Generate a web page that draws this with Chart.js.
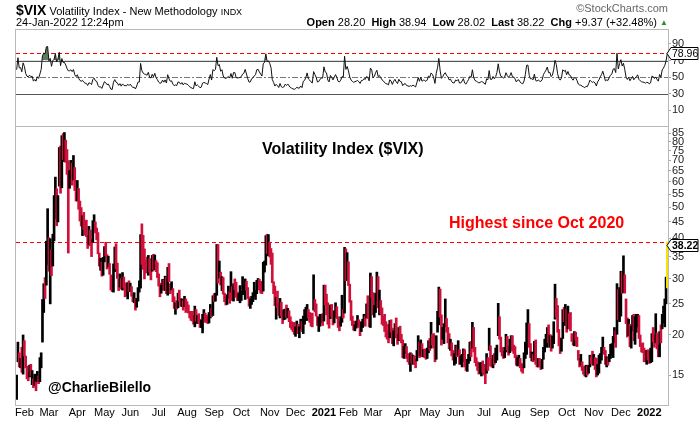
<!DOCTYPE html>
<html>
<head>
<meta charset="utf-8">
<script src="https://cdn.jsdelivr.net/npm/chart.js@4.4.1/dist/chart.umd.min.js"></script>
<style>
body { margin: 0; background: #fff; font-family: "Liberation Sans", Arial, sans-serif; }
#wrap { position: relative; width: 700px; height: 421px; overflow: hidden; }
canvas { position: absolute; left: 0; top: 0; }
.t { position: absolute; white-space: nowrap; color: #000; line-height: 1; }
</style>
</head>
<body>
<div id="wrap">
<canvas id="rsiChart" width="700" height="421"></canvas>
<canvas id="mainChart" width="700" height="421"></canvas>
<div class="t" style="left:16px;top:3px;font-size:11px"><b style="font-size:14px">$VIX</b> Volatility Index - New Methodology <span style="font-size:9px">INDX</span></div>
<div class="t" style="left:16px;top:17px;font-size:11px">24-Jan-2022 12:24pm</div>
<div class="t" style="right:32px;top:3px;font-size:11px;color:#666">&copy;StockCharts.com</div>
<div class="t" style="right:43px;top:17px;font-size:11px"><b>Open</b> 28.20&nbsp; <b>High</b> 38.94&nbsp; <b>Low</b> 28.02&nbsp; <b>Last</b> 38.22&nbsp; <b>Chg</b> +9.37 (+32.48%)</div>
<div class="t" style="left:660px;top:19px;font-size:8px;color:#2e8b2e">&#9650;</div>
<div class="t" id="warn" style="left:300px;top:380px;font-size:11px;color:#f0f"></div>
</div>
<script>
// VIX daily bars, 24-Jan-2020 .. 24-Jan-2022

// closes before the first bar, only used to seed the RSI
const warmupCloses = [14.91,15.96,14.80,14.52,13.62,15.86,15.68,14.99,13.94,12.63,12.14,12.29,12.58,12.50,12.51,12.61,12.67,12.65,13.43,14.82,13.78,
  12.47,14.02,13.85,13.79,13.45,12.54,12.56,12.32,12.39,12.42,12.32,12.10,12.85,12.91,12.98];

const close2020 = [
  14.56,18.23,16.28,16.39,15.49,18.84,
  17.97,16.05,15.15,14.96,15.47,15.04,15.18,13.74,14.15,13.68,14.83,14.38,15.56,17.08,25.03,27.85,27.56,39.16,40.11,
  33.42,36.82,31.99,39.62,41.94,54.46,47.30,53.90,75.47,57.83,82.69,75.91,76.45,72.00,66.04,61.59,61.67,63.95,61.00,65.54,57.08,53.54,
  57.06,50.91,46.80,45.24,46.70,43.35,41.67,41.17,37.76,40.84,40.11,38.15,43.83,45.41,41.98,41.38,35.93,33.29,33.57,31.23,34.15,
  37.19,35.97,33.61,34.12,31.44,27.98,27.57,33.04,35.28,32.61,31.89,29.30,30.53,27.99,29.53,28.16,27.91,27.62,28.59,27.51,
  28.23,26.84,25.66,25.81,24.52,25.81,27.57,27.57,40.79,36.09,34.40,33.67,33.47,32.94,35.12,31.77,31.37,33.84,32.22,34.73,31.78,30.43,
  28.62,27.68,27.94,29.43,28.08,29.26,27.29,32.19,29.52,27.76,28.00,25.68,24.46,24.84,24.32,26.08,25.84,24.74,25.44,24.10,24.76,24.46,
  24.28,23.76,22.99,22.65,22.21,22.13,24.03,22.28,22.59,22.05,21.35,21.51,22.54,22.72,22.54,22.37,22.03,23.27,24.47,22.96,26.41,
  26.12,26.57,33.60,30.75,31.46,28.81,29.71,26.87,25.85,25.59,26.04,26.46,25.83,27.78,25.79,28.58,28.51,26.38,26.19,26.27,26.37,
  26.70,27.63,27.96,29.48,28.06,26.36,25.00,25.07,26.07,26.40,26.97,27.41,29.18,29.35,28.65,28.11,27.55,32.46,33.35,40.28,37.59,38.02,
  37.13,35.55,29.57,27.58,24.86,25.75,24.80,23.45,25.35,23.10,22.45,22.71,23.84,23.11,23.70,22.66,21.64,21.25,20.84,20.57,
  20.77,21.17,20.79,20.79,21.30,20.68,22.27,22.52,23.31,24.72,22.89,22.50,21.93,21.57,25.16,24.23,23.31,21.53,21.70,22.42,22.77,22.75
];
const high2020 = [
  15.0,19.0,17.6,16.9,18.3,20.0,
  19.2,17.2,16.0,15.3,16.1,16.2,15.5,14.6,15.1,14.3,15.4,14.9,17.0,17.6,25.8,28.9,30.2,39.2,49.5,
  40.2,39.9,36.9,41.2,54.4,62.1,57.1,54.4,76.8,77.6,83.6,84.8,85.5,81.0,75.7,69.9,65.1,70.0,68.7,72.5,66.5,59.8,
  60.6,57.2,52.3,49.9,47.1,48.2,45.2,45.6,40.8,43.6,42.5,39.6,45.4,47.4,45.0,43.1,41.7,36.0,34.7,33.8,34.9,
  37.7,38.9,35.6,35.2,33.4,30.8,30.3,33.3,37.6,38.5,33.5,29.9,31.0,30.0,31.3,30.3,28.8,29.1,29.1,29.5,
  29.0,28.3,26.7,27.1,25.9,26.0,28.1,29.5,41.1,44.4,40.9,37.1,34.2,35.0,35.4,34.6,32.0,35.4,35.7,35.5,34.1,33.6,
  31.0,29.0,28.6,29.8,29.6,30.5,30.3,32.5,33.4,28.9,29.3,27.9,26.3,25.2,25.6,27.0,27.6,26.0,25.9,25.6,26.4,25.9,
  25.4,24.8,23.7,23.6,23.7,23.0,24.6,24.0,23.0,23.3,22.4,22.2,23.2,24.0,23.4,23.1,22.8,23.5,24.9,24.2,26.5,
  26.9,27.0,38.3,38.3,34.0,31.4,30.4,30.2,27.0,26.3,26.7,28.4,27.3,31.5,28.3,28.9,29.9,29.2,27.2,26.9,28.5,
  27.3,30.4,28.4,29.9,29.4,28.1,26.3,25.9,26.4,27.1,29.2,27.5,29.6,30.0,29.8,29.4,28.6,33.7,34.0,40.8,41.2,41.1,
  38.9,37.2,36.0,29.3,28.4,26.2,27.4,25.1,26.0,25.3,23.8,24.0,24.1,24.8,24.2,23.8,22.8,22.0,21.6,21.9,
  21.2,22.1,21.6,21.2,22.4,22.0,22.9,24.0,24.4,24.9,24.0,23.5,22.7,23.4,30.8,25.8,25.0,22.9,22.7,23.2,23.2,23.3
];
const low2020 = [
  12.6,16.5,15.9,15.8,15.3,15.1,
  17.2,15.8,14.6,14.4,14.8,14.9,14.0,13.7,13.9,13.4,14.3,14.1,14.3,15.8,19.0,23.5,26.0,28.6,33.1,
  31.6,25.0,30.6,32.8,39.3,46.0,43.8,45.0,58.2,55.3,57.5,70.4,69.4,69.0,63.3,36.0,57.3,59.3,58.6,60.8,56.4,52.3,
  52.3,49.3,45.3,43.7,40.8,42.6,40.9,40.5,37.2,38.3,37.9,35.1,38.9,42.4,41.6,39.6,35.8,32.8,31.8,30.5,30.7,
  33.8,35.3,32.1,32.6,30.9,27.6,27.3,27.2,31.5,32.1,30.0,27.5,28.2,27.8,27.6,28.0,26.3,26.5,25.9,27.3,
  27.3,26.4,25.4,25.2,23.9,24.4,25.5,27.2,28.0,33.2,32.0,29.9,31.2,31.7,30.7,31.4,29.7,31.6,31.9,31.9,31.5,30.2,
  28.4,26.3,27.0,27.6,27.6,27.5,26.9,26.6,29.3,26.9,27.6,25.4,24.2,23.2,24.1,24.3,25.5,24.6,24.5,23.9,24.5,23.5,
  23.8,23.4,22.6,22.2,22.1,21.6,21.2,22.1,21.7,21.8,21.1,21.1,20.3,22.4,21.9,21.9,21.7,21.8,22.6,22.8,23.0,
  25.4,25.5,26.6,29.0,30.1,28.6,27.5,26.8,25.4,24.8,24.9,26.0,25.1,27.2,25.6,25.5,27.7,26.2,25.6,25.6,25.2,
  25.6,26.7,27.1,25.8,27.6,26.0,24.6,24.2,24.9,25.4,26.4,25.8,26.9,28.0,27.6,27.0,26.9,27.4,31.4,33.0,35.9,35.3,
  35.0,33.2,29.1,26.9,24.7,22.4,24.3,23.0,22.6,22.9,21.7,22.3,22.4,22.7,22.6,22.0,21.1,20.8,20.5,20.1,
  19.8,20.3,20.2,19.6,20.9,20.5,20.2,21.6,22.2,22.2,22.6,21.9,21.3,21.2,23.9,23.6,22.9,21.4,20.5,21.3,21.8,21.4
];

const close2021 = [
  26.97,25.34,25.07,22.37,21.56,24.08,23.33,22.21,23.25,24.34,23.24,21.58,21.32,21.91,23.19,23.02,37.21,30.21,33.09,
  30.24,25.56,22.91,21.77,20.87,21.24,21.63,21.99,21.25,19.97,21.46,21.50,22.49,22.05,23.45,23.11,21.34,28.89,27.95,
  23.35,24.10,26.67,28.57,24.66,25.47,24.03,22.56,21.91,20.69,20.03,19.79,19.23,21.58,20.95,18.88,20.30,21.20,19.81,18.86,20.74,19.61,19.40,
  17.33,17.91,18.12,17.16,16.95,16.69,16.91,16.65,16.99,16.57,16.25,17.29,18.68,17.50,18.71,17.33,17.64,17.56,17.28,17.61,18.61,
  18.31,19.48,19.15,18.39,16.69,19.66,21.84,27.59,23.13,18.81,19.72,21.34,22.18,20.67,20.15,18.40,18.84,17.36,16.74,16.76,
  17.90,17.48,18.04,16.42,16.42,17.07,17.89,16.10,15.65,16.39,17.02,18.15,17.75,20.70,17.89,16.66,16.32,15.97,15.62,15.76,16.02,15.83,
  15.48,15.07,16.44,16.20,19.00,16.18,16.17,17.12,16.33,17.01,18.45,22.50,19.73,17.91,17.69,17.20,17.58,19.36,18.31,17.70,18.24,
  19.46,18.04,17.97,17.28,16.15,16.72,16.79,16.06,15.59,15.45,16.12,17.91,21.57,21.67,18.56,17.15,17.22,16.79,18.84,16.39,16.11,16.48,
  16.11,15.94,16.41,18.04,18.87,19.67,20.95,19.37,19.46,18.18,18.69,20.81,25.71,24.36,20.87,18.63,17.75,18.76,23.25,22.56,23.14,
  21.15,22.96,21.30,21.00,19.54,18.77,20.00,19.85,18.64,16.86,16.30,16.30,15.70,15.49,15.01,15.43,15.24,15.98,16.98,16.53,16.26,
  16.41,16.03,15.10,16.03,16.48,17.22,17.78,18.73,17.66,16.29,16.49,16.37,17.11,17.59,17.91,19.17,19.38,18.58,28.62,22.96,27.19,
  31.12,27.95,30.67,27.18,21.89,19.90,21.58,18.69,20.31,21.89,19.29,20.57,21.57,22.87,19.70,18.63,17.96,17.68,17.54,16.95,17.33,17.22
];
const high2021 = [
  28.6,28.6,26.8,25.2,23.3,24.8,24.9,23.4,23.8,25.2,24.5,22.8,22.1,22.8,26.6,24.0,37.5,37.1,36.1,
  33.8,28.8,25.6,22.9,22.1,21.5,22.1,23.0,22.3,21.7,22.0,22.4,23.2,22.9,25.0,26.5,23.5,31.2,30.4,
  27.1,24.7,27.0,31.4,30.4,27.6,25.6,24.3,22.9,23.2,22.0,20.6,21.6,22.2,22.3,21.0,20.6,21.7,22.6,20.1,21.1,21.3,20.1,
  19.3,18.4,18.8,18.4,17.5,17.2,17.6,17.5,17.3,17.2,16.8,17.9,19.9,19.0,19.3,18.8,18.0,18.1,18.0,18.2,19.2,
  19.5,21.9,20.1,20.2,18.3,19.9,23.7,28.2,27.8,23.1,21.1,21.7,25.9,22.5,21.1,20.2,19.4,18.9,17.9,17.5,
  18.6,18.5,19.2,18.0,17.2,17.4,18.1,18.0,16.4,16.8,17.4,19.0,19.1,21.9,21.1,18.3,17.0,16.5,16.3,16.4,16.4,16.6,
  16.2,15.7,17.5,17.0,21.0,18.5,16.8,17.3,17.5,18.2,18.6,25.1,22.8,19.7,18.3,17.8,18.3,20.1,19.8,18.4,19.4,
  19.9,19.9,18.6,18.4,17.3,17.0,17.3,16.9,16.3,16.1,17.6,19.0,21.8,24.0,21.7,18.8,17.7,17.4,19.1,19.3,16.8,16.9,
  16.9,16.5,16.8,18.3,19.4,20.1,21.1,21.5,20.0,20.0,19.8,22.0,28.8,26.0,24.7,20.8,19.6,19.5,24.0,24.4,24.9,
  24.1,24.6,23.3,23.5,20.2,19.7,20.5,20.4,19.7,17.9,16.9,17.4,16.5,15.9,16.0,16.1,16.0,16.1,17.3,17.1,17.8,
  17.4,17.0,16.9,16.2,17.3,17.5,18.3,19.7,18.3,17.9,17.1,17.0,17.4,18.7,18.8,19.8,21.1,20.6,28.9,27.7,28.1,
  31.6,31.5,35.3,30.8,25.9,22.6,22.4,21.6,21.3,23.0,23.2,22.8,23.2,23.2,23.0,20.0,18.8,18.9,18.2,17.9,17.9,18.0
];
const low2021 = [
  22.1,24.8,23.1,21.6,21.0,22.5,22.9,21.5,21.8,22.7,22.5,21.1,20.6,21.3,21.9,22.6,23.4,29.5,29.6,
  28.5,25.3,22.2,21.4,20.7,20.6,21.0,21.2,21.1,19.9,20.5,21.1,21.8,21.3,22.6,22.5,21.2,21.1,26.2,
  23.1,22.7,23.5,25.6,24.3,23.1,23.3,21.6,21.4,20.5,19.7,19.4,18.9,19.6,20.4,18.8,18.5,19.6,19.6,18.7,19.2,19.3,18.9,
  17.0,16.9,17.5,16.9,16.5,16.2,15.4,16.3,16.2,16.2,15.8,16.6,17.3,17.0,17.2,17.1,17.1,17.0,16.8,16.9,17.6,
  17.9,18.2,18.6,18.2,16.5,16.8,20.4,21.5,22.7,18.6,19.4,18.8,21.2,20.4,18.9,18.1,17.9,17.2,16.7,16.1,
  16.3,17.1,17.3,16.2,16.2,15.9,16.5,15.9,15.5,15.4,16.3,16.6,17.1,18.2,17.7,16.4,16.0,15.5,15.1,15.2,14.9,15.3,
  15.0,14.1,15.2,15.5,17.9,16.0,15.9,15.8,16.2,16.4,16.7,19.9,19.4,17.7,17.2,16.9,17.0,17.7,18.0,17.3,17.6,
  17.9,17.8,17.5,17.0,16.1,16.0,16.3,15.8,15.4,15.2,15.8,16.9,17.4,20.5,18.3,17.0,16.6,16.5,16.7,16.2,15.9,15.9,
  15.9,15.6,15.7,16.8,17.7,18.5,18.3,18.9,18.3,17.8,18.2,18.8,22.4,22.7,20.4,18.5,17.5,17.8,19.5,22.0,21.4,
  20.4,20.9,20.9,20.6,19.1,18.6,18.5,19.3,18.4,16.7,15.9,16.1,15.5,15.1,14.9,14.8,15.0,15.2,15.9,16.3,16.1,
  16.1,15.6,14.8,15.0,15.2,16.3,16.7,17.6,17.4,16.2,15.9,16.1,16.5,16.9,17.3,17.0,18.9,18.3,20.1,22.3,22.0,
  22.9,27.0,27.1,27.0,21.7,19.7,19.9,18.4,18.2,20.6,19.2,18.7,20.4,21.2,19.5,18.4,17.7,17.6,16.5,16.5,16.2,16.7
];

const close2022 = [16.60,16.91,19.73,19.61,18.76,19.40,18.41,17.62,20.31,19.19,22.79,23.85,25.59,28.85,38.22];
const high2022 = [17.8,18.2,20.2,21.1,20.0,23.3,20.3,18.6,20.5,21.5,23.2,24.6,25.9,30.3,38.94];
const low2022 = [16.3,16.4,16.5,19.0,18.3,18.9,18.1,17.1,17.1,18.9,20.9,21.8,21.2,25.0,28.02];

const holidays = ['2020-02-17','2020-04-10','2020-05-25','2020-07-03','2020-09-07','2020-11-26','2020-12-25',
  '2021-01-01','2021-01-18','2021-02-15','2021-04-02','2021-05-31','2021-07-05','2021-09-06','2021-11-25','2021-12-24',
  '2022-01-17'];
const monthNames = ['Jan','Feb','Mar','Apr','May','Jun','Jul','Aug','Sep','Oct','Nov','Dec'];
const priceTicks = [15,20,25,30,35,40,45,50,55,60,65,70,75,80,85];
const rsiTicks = [10,30,50,70,90];
const highLine = 38.94;   // "Highest since Oct 2020"
const lastClose = 38.22;
const lastRsi = 78.96;

const closes = close2020.concat(close2021, close2022);
const highs = high2020.concat(high2021, high2022);
const lows = low2020.concat(low2021, low2022);

// trading days
const days = [];
let d = new Date(Date.UTC(2020, 0, 24));
while (d.getTime() <= Date.UTC(2022, 0, 24)) {
  const s = d.toISOString().slice(0, 10);
  const wd = d.getUTCDay();
  if (wd > 0 && wd < 6 && !holidays.includes(s)) days.push(s);
  d.setUTCDate(d.getUTCDate() + 1);
}
if (days.length !== closes.length || highs.length !== closes.length || lows.length !== closes.length) {
  document.getElementById('warn').textContent = 'len ' + days.length + ' ' + closes.length + ' ' + highs.length + ' ' + lows.length;
}

// month tick labels
const monthStart = new Set();
const tickText = days.map((s, i) => {
  const m = +s.slice(5, 7) - 1;
  if (i > 0 && s.slice(5, 7) !== days[i - 1].slice(5, 7)) {
    monthStart.add(i);
    return m === 0 ? s.slice(0, 4) : monthNames[m];
  }
  return '';
});

// RSI(14), Wilder smoothing
function rsi(vals, n) {
  const out = [];
  let ag = 0, al = 0;
  for (let i = 1; i < vals.length; i++) {
    const ch = vals[i] - vals[i - 1];
    const g = Math.max(ch, 0), l = Math.max(-ch, 0);
    if (i <= n) { ag += g / n; al += l / n; }
    else { ag = (ag * (n - 1) + g) / n; al = (al * (n - 1) + l) / n; }
    out[i] = i >= n ? 100 - 100 / (1 + ag / al) : null;
  }
  return out;
}
const allCloses = warmupCloses.concat(closes);
const rsiValues = rsi(allCloses, 14).slice(warmupCloses.length);

const barColors = closes.map((c, i) => {
  if (i === closes.length - 1) return '#f2e600';
  const prev = i === 0 ? warmupCloses[warmupCloses.length - 1] : closes[i - 1];
  return c >= prev ? '#000000' : '#d0103a';
});

Chart.defaults.font.family = '"Liberation Sans", Arial, sans-serif';
Chart.defaults.font.size = 11;
Chart.defaults.color = '#000';

const FONT = '"Liberation Sans", Arial, sans-serif';

// little arrow box at the right axis, as StockCharts draws it
function valueTag(ctx, x, y, text, bold) {
  ctx.save();
  ctx.font = (bold ? 'bold ' : '') + '10.5px ' + FONT;
  const w = Math.min(ctx.measureText(text).width + 3, 700 - x - 6);
  y = Math.round(y) + 0.5;
  ctx.fillStyle = '#fff';
  ctx.strokeStyle = '#000';
  ctx.lineWidth = 1;
  ctx.beginPath();
  ctx.moveTo(x, y);
  ctx.lineTo(x + 4, y - 6);
  ctx.lineTo(x + 4 + w, y - 6);
  ctx.lineTo(x + 4 + w, y + 6);
  ctx.lineTo(x + 4, y + 6);
  ctx.closePath();
  ctx.fill();
  ctx.stroke();
  ctx.fillStyle = '#000';
  ctx.textAlign = 'left';
  ctx.textBaseline = 'middle';
  ctx.fillText(text, x + 5, y + 0.5);
  ctx.restore();
}

const rsiDeco = {
  id: 'rsiDeco',
  beforeDatasetsDraw(chart) {
    const { ctx, chartArea: a, scales: { y } } = chart;
    const hline = (v, color, dash) => {
      const yy = Math.round(y.getPixelForValue(v)) + 0.5;
      ctx.strokeStyle = color;
      ctx.setLineDash(dash);
      ctx.beginPath();
      ctx.moveTo(a.left, yy);
      ctx.lineTo(a.right, yy);
      ctx.stroke();
    };
    ctx.save();
    ctx.lineWidth = 1;
    hline(70, '#555', []);
    hline(30, '#555', []);
    hline(50, '#777', [6, 2, 2, 2]);
    hline(lastRsi, '#ff0000', [4, 3]);
    ctx.restore();
  },
  afterDraw(chart) {
    const { ctx, chartArea: a, scales: { y } } = chart;
    ctx.save();
    ctx.strokeStyle = '#b8b8b8';
    ctx.lineWidth = 1;
    ctx.strokeRect(a.left - 0.5, a.top + 0.5, a.right - a.left + 1, a.bottom - a.top);
    ctx.restore();
    valueTag(ctx, a.right - 1, y.getPixelForValue(lastRsi), lastRsi.toFixed(2), false);
  }
};

const mainDeco = {
  id: 'mainDeco',
  beforeDatasetsDraw(chart) {
    const { ctx, chartArea: a, scales: { y } } = chart;
    const yy = Math.round(y.getPixelForValue(highLine)) + 0.5;
    ctx.save();
    ctx.strokeStyle = '#ff0000';
    ctx.lineWidth = 1;
    ctx.setLineDash([4, 3]);
    ctx.beginPath();
    ctx.moveTo(a.left, yy);
    ctx.lineTo(a.right, yy);
    ctx.stroke();
    ctx.restore();
  },
  afterDraw(chart) {
    const { ctx, chartArea: a, scales: { y } } = chart;
    ctx.save();
    ctx.strokeStyle = '#b8b8b8';
    ctx.lineWidth = 1;
    ctx.strokeRect(a.left - 0.5, a.top + 0.5, a.right - a.left + 1, a.bottom - a.top);
    ctx.textBaseline = 'middle';
    ctx.textAlign = 'left';
    ctx.fillStyle = '#000';
    ctx.font = 'bold 16px ' + FONT;
    ctx.fillText('Volatility Index ($VIX)', 262, 150);
    ctx.fillStyle = '#ff0000';
    ctx.fillText('Highest since Oct 2020', 449, 224);
    ctx.fillStyle = '#000';
    ctx.font = 'bold 14px ' + FONT;
    ctx.fillText('@CharlieBilello', 48, 388);
    ctx.restore();
    valueTag(ctx, a.right - 1, y.getPixelForValue(lastClose), lastClose.toFixed(2), true);
  }
};

const yAxisWidth = s => { s.width = 32; };

new Chart(document.getElementById('rsiChart'), {
  type: 'line',
  data: {
    labels: days,
    datasets: [{
      data: rsiValues,
      borderColor: '#111',
      borderWidth: 1,
      pointRadius: 0,
      tension: 0,
      fill: { value: 70, above: '#5b7d5b', below: 'rgba(0,0,0,0)' }
    }]
  },
  options: {
    responsive: false,
    animation: false,
    layout: { padding: { left: 16, top: 29, right: 0, bottom: 295 } },
    plugins: { legend: { display: false }, tooltip: { enabled: false } },
    scales: {
      x: { type: 'category', offset: true, display: false },
      y: {
        position: 'right',
        min: -9, max: 108,
        afterBuildTicks: s => { s.ticks = rsiTicks.map(v => ({ value: v })); },
        afterFit: yAxisWidth,
        grid: { drawOnChartArea: false, tickLength: 3, color: '#aaa' },
        border: { color: '#b8b8b8' },
        ticks: { padding: 1, color: '#222', font: { size: 11 } }
      }
    }
  },
  plugins: [rsiDeco]
});

new Chart(document.getElementById('mainChart'), {
  type: 'bar',
  data: {
    labels: days,
    datasets: [{
      data: lows.map((l, i) => [l, highs[i]]),
      backgroundColor: barColors,
      borderWidth: 0,
      barThickness: 2
    }]
  },
  options: {
    responsive: false,
    animation: false,
    layout: { padding: { left: 16, top: 126, right: 0, bottom: 0 } },
    plugins: { legend: { display: false }, tooltip: { enabled: false } },
    scales: {
      x: {
        type: 'category',
        offset: true,
        afterBuildTicks: s => { s.ticks = s.ticks.filter(t => monthStart.has(t.value)); },
        afterFit: s => { s.height = 16; },
        grid: { display: false, drawTicks: false, tickLength: 0 },
        border: { display: false },
        ticks: {
          autoSkip: false, maxRotation: 0, minRotation: 0, padding: 1, color: '#000',
          callback: v => tickText[v],
          font: c => ({ size: 11, weight: /^\d/.test(tickText[c.tick.value]) ? 'bold' : 'normal' })
        }
      },
      y: {
        type: 'logarithmic',
        position: 'right',
        min: 12.1, max: 89.6,
        afterBuildTicks: s => { s.ticks = priceTicks.map(v => ({ value: v })); },
        afterFit: yAxisWidth,
        grid: { drawOnChartArea: false, tickLength: 3, color: '#aaa' },
        border: { color: '#b8b8b8' },
        ticks: { padding: 1, color: '#222', font: { size: 11 }, callback: v => String(v) }
      }
    }
  },
  plugins: [mainDeco]
});
</script>
</body>
</html>
